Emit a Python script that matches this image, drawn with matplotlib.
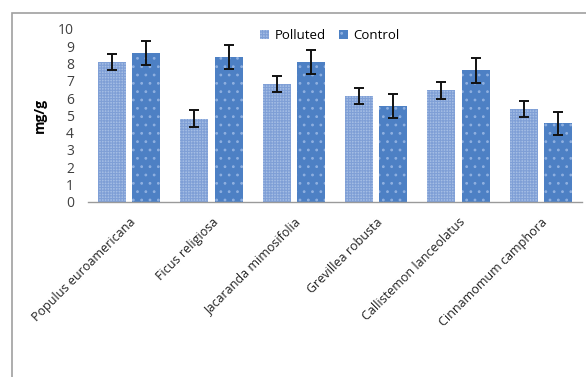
import matplotlib
matplotlib.use("Agg")
import matplotlib.pyplot as plt
import numpy as np
from matplotlib.patches import Rectangle

plt.rcParams['font.family'] = ['Open Sans', 'DejaVu Sans']
plt.rcParams['hatch.linewidth'] = 0.8

species = ["Populus euroamericana", "Ficus religiosa", "Jacaranda mimosifolia",
           "Grevillea robusta", "Callistemon lanceolatus", "Cinnamomum camphora"]
polluted = [8.1, 4.8, 6.8, 6.12, 6.45, 5.37]
polluted_err = [0.48, 0.5, 0.47, 0.48, 0.48, 0.47]
control = [8.6, 8.37, 8.07, 5.54, 7.6, 4.54]
control_err = [0.7, 0.7, 0.7, 0.7, 0.7, 0.67]
yticks = list(range(0, 11))

fig = plt.figure(figsize=(5.86, 3.77), dpi=100)
ax = fig.add_axes([88/586, 1-201.7/377, (582-88)/586, (201.7-29)/377])

x = np.arange(len(species))
w = 0.34
off = 0.21
ax.bar(x - off, polluted, w, color='#a4bde4', edgecolor='#7f9fd6', hatch='++++++', linewidth=0,
       label='Polluted')
ax.bar(x + off, control, w, color='#4d80c4', edgecolor='#8fb0e0', hatch='..', linewidth=0,
       label='Control')
ax.errorbar(x - off, polluted, yerr=polluted_err, fmt='none', ecolor='#111111', elinewidth=1.4,
            capsize=3.5, capthick=1.4)
ax.errorbar(x + off, control, yerr=control_err, fmt='none', ecolor='#111111', elinewidth=1.4,
            capsize=3.5, capthick=1.4)

ax.set_xlim(-0.5, len(species) - 0.5)
ax.set_ylim(0, 10)
ax.set_yticks(yticks)
ax.set_yticklabels([str(t) for t in yticks], fontsize=10, color='#404040')
ax.tick_params(axis='y', length=0, pad=10)
ax.tick_params(axis='x', length=0, pad=10)
ax.set_xticks(x)
ax.set_xticklabels(species, rotation=45, ha='right', rotation_mode='anchor', fontsize=9,
                   color='#222222')
for lbl in ax.get_xticklabels():
    lbl.set_x(lbl.get_position()[0])
for s in ['top', 'right', 'left']:
    ax.spines[s].set_visible(False)
ax.spines['bottom'].set_color('#9a9a9a')
ax.spines['bottom'].set_linewidth(1.0)

ax.set_ylabel('mg/g', fontsize=10, fontweight='bold', labelpad=8)

leg = ax.legend(loc='upper center', bbox_to_anchor=(0.49, 1.07), ncol=2, frameon=False,
                fontsize=9.5, handlelength=0.7, handleheight=0.7, columnspacing=1.0,
                handletextpad=0.4)

fig.patches.append(Rectangle((12/586, -0.1), 1.0, 1 - 13/377 + 0.1, transform=fig.transFigure,
                             fill=False, edgecolor='#a0a0a0', linewidth=1.2))

fig.savefig('out.png', dpi=100)
